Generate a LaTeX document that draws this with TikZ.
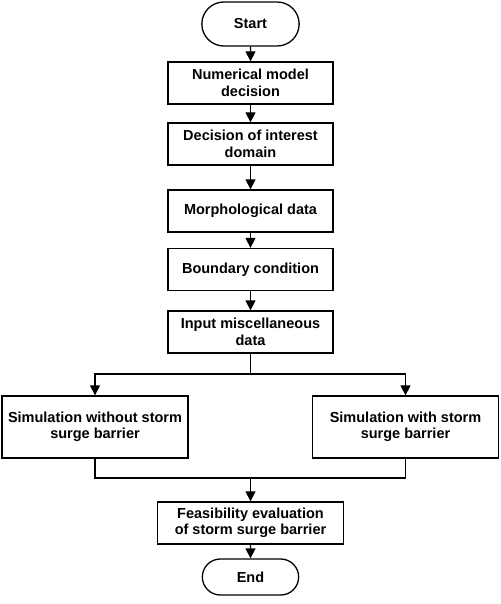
\documentclass[tikz,border=0pt]{standalone}
\usepackage{fontspec}
\setmainfont{Liberation Sans}
\usetikzlibrary{shapes.misc,arrows.meta,positioning}

\begin{document}
\begin{tikzpicture}[x=1pt, y=-1pt,
    stepbox/.style={rectangle, draw, line width=1.3pt, minimum width=165pt, minimum height=42pt, align=center, font=\bfseries\fontsize{14.5}{16.5}\selectfont, inner sep=2pt},
    widebox/.style={stepbox, minimum width=186pt, minimum height=62pt},
    terminal/.style={rounded rectangle, draw, line width=1.3pt, minimum width=104pt, minimum height=44pt, font=\bfseries\fontsize{14.5}{16.5}\selectfont},
    arr/.style={-{Triangle[length=10pt, width=10pt]}, line width=1.3pt},
    line/.style={line width=1.3pt}]

    \useasboundingbox (0,0) rectangle (500,604);

    % Main chain
    \node[terminal] (start) at (250.5,24) {Start};
    \node[stepbox] (model) at (250.5,83) {Numerical model\\decision};
    \node[stepbox] (domain) at (250.5,144) {Decision of interest\\domain};
    \node[stepbox] (morph) at (250.5,211) {Morphological data};
    \node[stepbox] (bound) at (250.5,269.5) {Boundary condition};
    \node[stepbox] (misc) at (250.5,332) {Input miscellaneous\\data};

    % Two simulations
    \node[widebox] (without) at (95,427) {Simulation without storm\\surge barrier};
    \node[widebox] (with) at (405.5,427) {Simulation with storm\\surge barrier};

    % Evaluation
    \node[stepbox, minimum width=186pt] (feas) at (250.5,523) {Feasibility evaluation\\of storm surge barrier};
    \node[terminal, minimum width=103pt, minimum height=36pt] (end) at (250.5,577) {End};

    \coordinate (split) at (250.5,374);
    \coordinate (join) at (250.5,478);

    \draw[arr] (start) -- (model);
    \draw[arr] (model) -- (domain);
    \draw[arr] (domain) -- (morph);
    \draw[arr] (morph) -- (bound);
    \draw[arr] (bound) -- (misc);
    \draw[line] (misc) -- (split);
    \draw[arr] (split) -| (without);
    \draw[arr] (split) -| (with);
    \draw[line] (without) |- (join);
    \draw[line] (with) |- (join);
    \draw[arr] (join) -- (feas);
    \draw[arr] (feas) -- (end);
\end{tikzpicture}
\end{document}
